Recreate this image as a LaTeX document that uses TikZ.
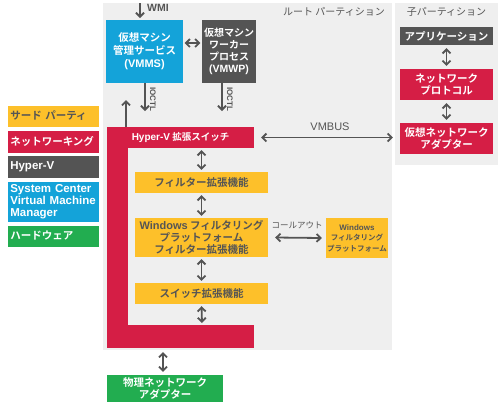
\documentclass[tikz,border=0pt]{standalone}
\usepackage{fontspec}
\setmainfont{Noto Sans CJK JP}[BoldFont={* Bold}]
\newfontfamily\lat{Liberation Sans}
\usetikzlibrary{arrows.meta}
\definecolor{cblue}{HTML}{14A3D9}
\definecolor{cgray}{HTML}{545454}
\definecolor{cred}{HTML}{D51E45}
\definecolor{corange}{HTML}{FDC02A}
\definecolor{cgreen}{HTML}{22AD50}
\definecolor{cbg}{HTML}{EFEFEF}
\definecolor{ctext}{HTML}{555555}
\tikzset{
  box/.style={inner sep=0pt, align=center, font=\bfseries\fontsize{10.5}{12.5}\selectfont},
  wbox/.style={box, fill=#1, text=white},
  obox/.style={box, fill=corange, text=ctext},
  leg/.style={inner sep=3pt, align=left, text width=86pt, minimum width=92pt, anchor=west, draw=white, line width=0.6pt, font=\bfseries\fontsize{10.5}{12}\selectfont},
  arr/.style={draw=cgray, line width=1.8pt, -{Straight Barb[length=4pt,width=8pt]}},
  darr/.style={draw=cgray, line width=1.8pt, {Straight Barb[length=4pt,width=8pt]}-{Straight Barb[length=4pt,width=8pt]}},
  lbl/.style={text=ctext, inner sep=1pt, font=\fontsize{9}{11}\selectfont},
}
\begin{document}
\begin{tikzpicture}[x=1pt,y=-1pt]
\useasboundingbox (0,0) rectangle (500,408);
\fill[white] (0,0) rectangle (500,408);
% partitions
\fill[cbg] (103,3) rectangle (392,350);
\fill[cbg] (395,3) rectangle (498,165);
\node[lbl, font=\fontsize{10}{12}\selectfont, anchor=east] (rootlbl) at (386,12) {ルート パーティション};
\node[lbl, font=\fontsize{10}{12}\selectfont] (childlbl) at (446.5,12) {子パーティション};
% top boxes
\node[wbox=cblue, minimum width=77pt, minimum height=63pt, font=\bfseries\fontsize{10.5}{13}\selectfont] (vmms) at (144.5,51.5) {仮想マシン\\管理サービス\\{\lat\fontsize{11}{13}\selectfont (VMMS)}};
\node[wbox=cgray, minimum width=54pt, minimum height=63pt, font=\bfseries\fontsize{10}{12}\selectfont] (vmwp) at (229,51.5) {仮想マシン\\ワーカー\\プロセス\\{\lat\fontsize{10.5}{12}\selectfont (VMWP)}};
% red L
\fill[cred] (107,127) rectangle (254,148);
\fill[cred] (107,127) rectangle (128,348);
\fill[cred] (107,325) rectangle (254,348);
\node[box, text=white, minimum width=147pt, minimum height=21pt, font=\bfseries\fontsize{9.5}{11}\selectfont] (hvs) at (180.5,137.5) {{\lat\fontsize{10}{11}\selectfont Hyper-V} 拡張スイッチ};
\coordinate (hvsbot) at (163,348);
\coordinate (hvsin) at (202,325);
% extension boxes
\node[obox, minimum width=133pt, minimum height=21pt] (filt) at (201.5,182.5) {フィルター拡張機能};
\node[obox, minimum width=133pt, minimum height=39pt, font=\bfseries\fontsize{10.5}{12}\selectfont] (wfpx) at (201.5,237.5) {{\lat\fontsize{11}{12}\selectfont Windows} フィルタリング\\プラットフォーム\\フィルター拡張機能};
\node[obox, minimum width=133pt, minimum height=21pt] (swx) at (201.5,293.5) {スイッチ拡張機能};
\node[obox, minimum width=62pt, minimum height=40pt, font=\bfseries\fontsize{7.5}{10.5}\selectfont] (wfp) at (357,238) {{\lat\fontsize{8}{10.5}\selectfont Windows}\\フィルタリング\\プラットフォーム};
% NIC
\node[wbox=cgreen, minimum width=116pt, minimum height=27pt, font=\bfseries\fontsize{10.5}{12}\selectfont] (nic) at (165,388.5) {物理ネットワーク\\アダプター};
% child boxes
\node[wbox=cgray, minimum width=93pt, minimum height=18pt] (app) at (446.5,36) {アプリケーション};
\node[wbox=cred, minimum width=93pt, minimum height=31pt, font=\bfseries\fontsize{10.5}{12}\selectfont] (proto) at (446.5,84.5) {ネットワーク\\プロトコル};
\node[wbox=cred, minimum width=93pt, minimum height=31pt, font=\bfseries\fontsize{10.5}{12}\selectfont] (vna) at (446.5,138.5) {仮想ネットワーク\\アダプター};
% legend
\node[leg, fill=corange, text=ctext, minimum height=22pt] (l1) at (7,116) {サード パーティ};
\node[leg, fill=cred, text=white, minimum height=23pt] (l2) at (7,141.5) {ネットワーキング};
\node[leg, fill=cgray, text=white, minimum height=23pt, font=\lat\bfseries\fontsize{11.5}{12}\selectfont] (l3) at (7,166.5) {Hyper-V};
\node[leg, fill=cblue, text=white, minimum height=41pt, font=\lat\bfseries\fontsize{11.5}{12}\selectfont] (l4) at (7,201.5) {System Center\\Virtual Machine\\Manager};
\node[leg, fill=cgreen, text=white, minimum height=22pt] (l5) at (7,236) {ハードウェア};
% arrows
\coordinate (wmitop) at (140,3);
\coordinate (wmibot) at (140,18);
\draw[arr] (wmitop) -- (wmibot);
\node[lbl, anchor=west, font=\lat\bfseries\fontsize{10.5}{11}\selectfont] (wmi) at (146,8) {WMI};
\draw[darr] ([yshift=8.5pt]vmms.east) ++(1.5,0) -- ([yshift=8.5pt,xshift=-1.5pt]vmwp.west);
\coordinate (io1) at (145,111);
\coordinate (io2) at (222,111);
\draw[arr] (vmms.south -| io1) -- (io1);
\draw[arr] (vmwp.south -| io2) -- (io2);
\node[lbl, rotate=-90, font=\lat\bfseries\fontsize{8}{9}\selectfont] (ioctl1) at (153,99) {IOCTL};
\node[lbl, rotate=-90, font=\lat\bfseries\fontsize{8}{9}\selectfont] (ioctl2) at (230,99) {IOCTL};
\coordinate (upt) at (126,100);
\draw[arr] (126,127) -- (upt);
\draw[darr] ([xshift=7pt]hvs.east) -- ([xshift=-7pt]vna.west |- hvs.east);
\node[lbl, font=\lat\fontsize{11}{12}\selectfont] (vmbus) at (330,127) {VMBUS};
\draw[darr] ([yshift=-2pt]hvs.south -| filt.north) -- ([yshift=2pt]filt.north);
\draw[darr] ([yshift=-2pt]filt.south) -- ([yshift=2pt]wfpx.north);
\draw[darr] ([yshift=-2pt]wfpx.south) -- ([yshift=2pt]swx.north);
\draw[darr] ([yshift=-2pt]swx.south) -- ([yshift=2pt]hvsin);
\draw[darr] ([yshift=-4pt]hvsbot) -- ([yshift=3pt]nic.north -| hvsbot);
\draw[darr] ([xshift=7pt]wfpx.east) -- ([xshift=-4pt]wfp.west);
\node[lbl, font=\fontsize{8.5}{10}\selectfont] (callout) at (297,225) {コールアウト};
\draw[darr] ([yshift=-3pt]app.south) -- ([yshift=3pt]proto.north);
\draw[darr] ([yshift=-3pt]proto.south) -- ([yshift=3pt]vna.north);
\end{tikzpicture}
\end{document}
